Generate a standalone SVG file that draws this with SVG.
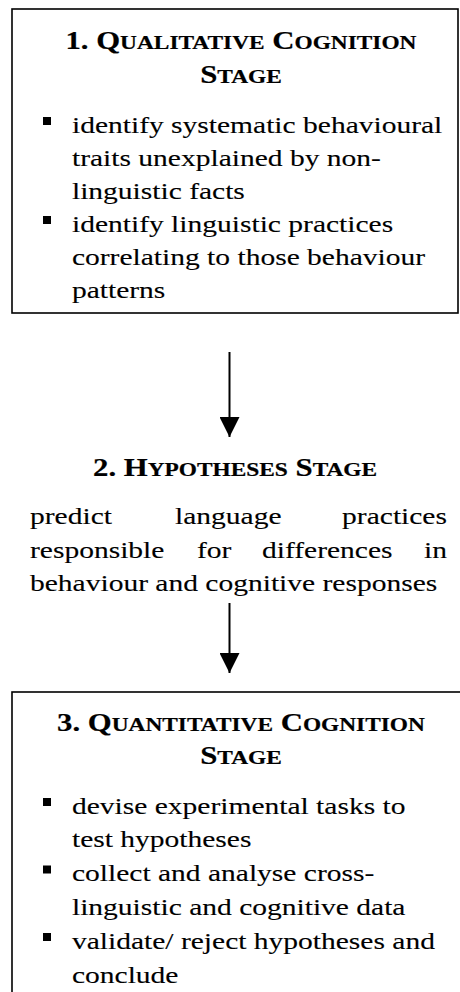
<svg xmlns="http://www.w3.org/2000/svg" width="460" height="992" viewBox="0 0 460 992">
  <defs>
    <style>
      .frame { fill: none; stroke: #000; stroke-width: 1.6; }
      .body { font-family: "Liberation Serif", "Times New Roman", serif; font-size: 24px; fill: #000; stroke: #000; stroke-width: 0.12; }
      .title { font-family: "Liberation Serif", "Times New Roman", serif; font-size: 25px; font-weight: bold; fill: #000; stroke: #000; stroke-width: 0.2; text-anchor: middle; }
      .sc { font-size: 19px; }
      .bullet { fill: #000; }
      .link { stroke: #000; stroke-width: 2; fill: none; }
      .end { text-anchor: end; }
    </style>
    <marker id="head" viewBox="0 0 20 20" refX="20" refY="10" markerWidth="20" markerHeight="20" markerUnits="userSpaceOnUse" orient="auto">
      <path d="M0,0 L20,10 L0,20 Z" fill="#000"/>
    </marker>
  </defs>
  <rect width="460" height="992" fill="#fff"/>

  <!-- Stage 1 box -->
  <g id="stage1">
    <rect class="frame" x="12" y="9" width="446" height="304"/>
    <g transform="scale(1.23 1)">
      <text class="title" x="195.9" y="49">1. Q<tspan class="sc">UALITATIVE</tspan> C<tspan class="sc">OGNITION</tspan></text>
      <text class="title" x="195.9" y="83">S<tspan class="sc">TAGE</tspan></text>
      <text class="body" x="58.5" y="133">identify systematic behavioural</text>
      <text class="body" x="58.5" y="166">traits unexplained by non-</text>
      <text class="body" x="58.5" y="199">linguistic facts</text>
      <text class="body" x="58.5" y="232">identify linguistic practices</text>
      <text class="body" x="58.5" y="265">correlating to those behaviour</text>
      <text class="body" x="58.5" y="298">patterns</text>
    </g>
    <rect class="bullet" x="43" y="117" width="8" height="8"/>
    <rect class="bullet" x="43" y="216" width="8" height="8"/>
  </g>

  <!-- Stage 2: free text, no frame -->
  <g id="stage2">
    <g transform="scale(1.23 1)">
      <text class="title" x="191.1" y="476">2. H<tspan class="sc">YPOTHESES</tspan> S<tspan class="sc">TAGE</tspan></text>
      <text class="body" x="24.4" y="524">predict</text>
      <text class="body" x="142.3" y="524">language</text>
      <text class="body end" x="363.4" y="524">practices</text>
      <text class="body" x="24.4" y="558">responsible</text>
      <text class="body" x="160.2" y="558">for</text>
      <text class="body" x="213" y="558">differences</text>
      <text class="body end" x="363.4" y="558">in</text>
      <text class="body" x="24.4" y="591.5">behaviour and cognitive responses</text>
    </g>
  </g>

  <!-- Stage 3 box (runs past the right and bottom edges) -->
  <g id="stage3">
    <rect class="frame" x="12" y="692" width="470" height="330"/>
    <g transform="scale(1.23 1)">
      <text class="title" x="195.9" y="731">3. Q<tspan class="sc">UANTITATIVE</tspan> C<tspan class="sc">OGNITION</tspan></text>
      <text class="title" x="195.9" y="764">S<tspan class="sc">TAGE</tspan></text>
      <text class="body" x="58.5" y="814">devise experimental tasks to</text>
      <text class="body" x="58.5" y="847.5">test hypotheses</text>
      <text class="body" x="58.5" y="881.5">collect and analyse cross-</text>
      <text class="body" x="58.5" y="915.5">linguistic and cognitive data</text>
      <text class="body" x="58.5" y="949">validate/ reject hypotheses and</text>
      <text class="body" x="58.5" y="983">conclude</text>
    </g>
    <rect class="bullet" x="43" y="798" width="8" height="8"/>
    <rect class="bullet" x="43" y="865.5" width="8" height="8"/>
    <rect class="bullet" x="43" y="933" width="8" height="8"/>
  </g>

  <!-- Connectors -->
  <g id="connectors">
    <line class="link" x1="229.5" y1="352" x2="229.5" y2="437" marker-end="url(#head)"/>
    <line class="link" x1="229.5" y1="603" x2="229.5" y2="673" marker-end="url(#head)"/>
  </g>
</svg>
